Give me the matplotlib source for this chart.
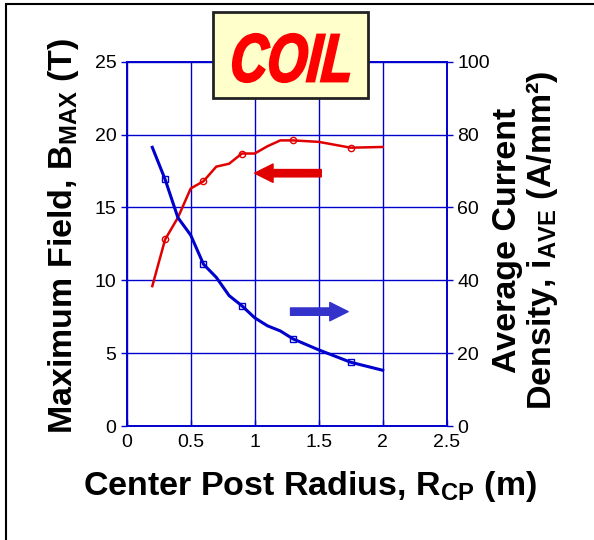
import matplotlib
matplotlib.use("Agg")
import matplotlib.pyplot as plt
from matplotlib.patches import Rectangle, PathPatch
from matplotlib.textpath import TextPath
from matplotlib.font_manager import FontProperties
from matplotlib.transforms import Affine2D, IdentityTransform

plt.rcParams['font.family'] = ['Liberation Sans', 'DejaVu Sans']
plt.rcParams['mathtext.fontset'] = 'custom'
plt.rcParams['mathtext.rm'] = 'Liberation Sans'
plt.rcParams['mathtext.bf'] = 'Liberation Sans:bold'

# dane
radius = [0.2, 0.3, 0.4, 0.5, 0.6, 0.7, 0.8, 0.9, 1.0, 1.1, 1.2, 1.3, 1.5, 1.75, 2.0]
b_max = [9.6, 12.8, 14.3, 16.3, 16.8, 17.8, 18.0, 18.7, 18.7, 19.2, 19.6, 19.6, 19.5, 19.1, 19.15]
i_ave = [76.5, 67.7, 57.2, 52.4, 44.4, 40.8, 35.8, 33.0, 29.7, 27.5, 26.1, 23.9, 20.9, 17.5, 15.3]
marker_idx = [1, 4, 7, 11, 13]

x_ticks = [0, 0.5, 1, 1.5, 2, 2.5]
left_ticks = [0, 5, 10, 15, 20, 25]
right_ticks = [0, 20, 40, 60, 80, 100]

blue = '#0000CC'
red = '#E00000'

fig = plt.figure(figsize=(5.94, 5.40), dpi=100)
ax = fig.add_axes([0.2133, 0.2111, 0.752 - 0.2133, 0.8857 - 0.2111])
ax2 = ax.twinx()

# ramka dookola
fig.patches.append(Rectangle((6 / 594, -0.1), 1.2, 1.1 - 4 / 540,
                             transform=fig.transFigure, fill=False,
                             edgecolor='black', linewidth=1.5))

ax.plot(radius, b_max, '-', color=red, lw=1.8, marker='o', markevery=marker_idx,
        ms=4.5, mfc='none', mec=red, mew=1, zorder=3)
ax2.plot(radius, i_ave, '-', color=blue, lw=2.2, marker='s', markevery=marker_idx,
         ms=4.5, mfc='none', mec=blue, mew=1, zorder=3)

ax.set_xlim(0, 2.5)
ax.set_ylim(0, 25)
ax2.set_ylim(0, 100)
ax.set_xticks(x_ticks)
ax.set_xticklabels(['0', '0.5', '1', '1.5', '2', '2.5'])
ax.set_yticks(left_ticks)
ax2.set_yticks(right_ticks)

ax.grid(True, color=blue, lw=1)
ax.set_axisbelow(True)
for a in (ax, ax2):
    for s in a.spines.values():
        s.set_color(blue)
        s.set_linewidth(1.2)
    a.tick_params(labelsize=14, colors=blue, labelcolor='black', length=4, width=1)
ax.tick_params(axis='x', direction='in', pad=6)

# strzalki
ax.annotate('', xy=(1.0, 17.35), xytext=(1.52, 17.35),
            arrowprops=dict(arrowstyle='simple,head_length=0.55,head_width=0.55,tail_width=0.22',
                            color=red, shrinkA=0, shrinkB=0, mutation_scale=24))
ax2.annotate('', xy=(1.73, 31.4), xytext=(1.28, 31.4),
             arrowprops=dict(arrowstyle='simple,head_length=0.55,head_width=0.55,tail_width=0.22',
                             color='#3333CC', shrinkA=0, shrinkB=0, mutation_scale=24))

# podpisy osi
fig.text(64 / 594, 1 - 236 / 540, r'Maximum Field, B$_{\mathbf{MAX}}$ (T)',
         rotation=90, ha='center', va='center', fontsize=24.5, fontweight='bold')
fig.text(526 / 594, 1 - 240 / 540,
         'Average Current\n' + r'Density, i$_{\mathbf{AVE}}$ (A/mm²)',
         rotation=90, ha='center', va='center', fontsize=24.5, fontweight='bold',
         linespacing=1.05)
fig.text(310 / 594, 1 - 487 / 540, r'Center Post Radius, R$_{\mathbf{CP}}$ (m)',
         ha='center', va='center', fontsize=24.5, fontweight='bold')

# napis COIL w ramce
fig.patches.append(Rectangle((213 / 594, 1 - 98 / 540), 155 / 594, 86 / 540,
                             transform=fig.transFigure, facecolor='#FFFFCC',
                             edgecolor='#222222', linewidth=2, zorder=5))
tp = TextPath((0, 0), 'COIL', size=50,
              prop=FontProperties(family='Liberation Sans', weight='bold', style='italic'))
tp = Affine2D().skew_deg(6, 0).transform_path(tp)
ext = tp.get_extents()
# zwezamy napis, zeby pasowal do ramki (w pikselach)
sx = 116 / ext.width
sy = 48 / ext.height
tr = Affine2D().translate(-ext.x0, -ext.y0).scale(sx, sy).translate(233, 540 - 82)
coil = PathPatch(tr.transform_path(tp), facecolor='#FF0000', edgecolor='#FF0000',
                 linewidth=1.6, transform=IdentityTransform(), zorder=6)
fig.patches.append(coil)

fig.savefig('out.png', dpi=100)
